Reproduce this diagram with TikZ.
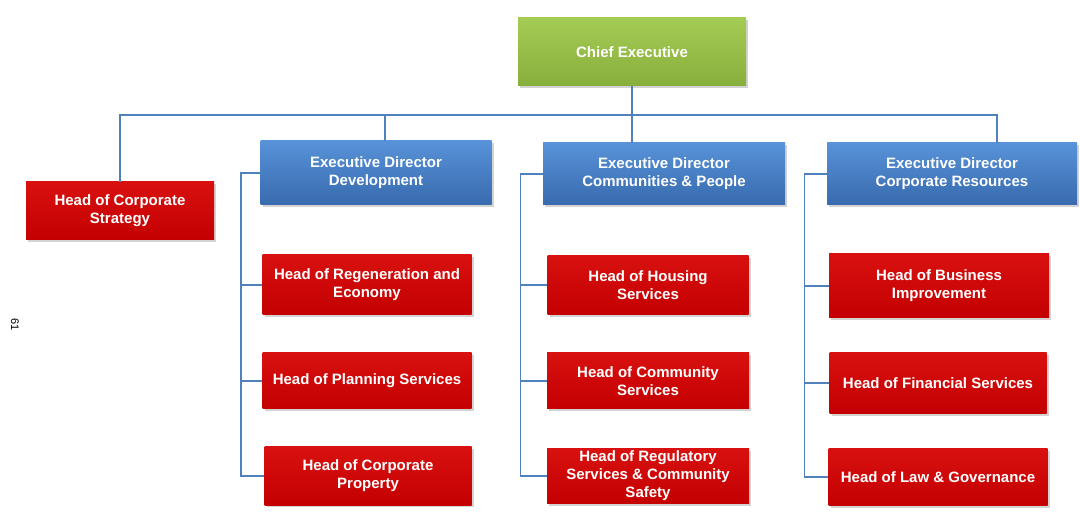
\documentclass[tikz,border=0pt]{standalone}
\usepackage{fontspec}
\setmainfont{Liberation Sans}
\usetikzlibrary{shadows}
\definecolor{cegreen}{RGB}{164,204,84}
\definecolor{cegreendk}{RGB}{136,174,60}
\definecolor{edblue}{RGB}{88,146,216}
\definecolor{edbluedk}{RGB}{56,106,174}
\definecolor{hdred}{RGB}{216,16,16}
\definecolor{hdreddk}{RGB}{196,0,0}
\definecolor{linkblue}{RGB}{79,129,189}

\begin{document}
\begin{tikzpicture}[x=0.5pt,y=-0.5pt,
  box/.style={text=white, align=center, inner sep=0pt,
    font=\fontsize{7.5}{9}\selectfont\bfseries,
    drop shadow={shadow xshift=1pt,shadow yshift=-1.2pt,opacity=.35}},
  chief/.style={box, top color=cegreen, bottom color=cegreendk},
  director/.style={box, top color=edblue, bottom color=edbluedk},
  head/.style={box, top color=hdred, bottom color=hdreddk},
  link/.style={draw=linkblue, line width=0.75pt}]
\useasboundingbox (0,0) rectangle (1080,517);
\node[rotate=-90, font=\fontsize{5.5}{6}\selectfont] (page) at (15,325) {61};
% top level
\node[chief, minimum width=114pt, minimum height=34pt] (ce) at (632,52) {Chief Executive};
\node[head, minimum width=94pt, minimum height=29pt] (strategy) at (120,211) {Head of Corporate\\Strategy};
\node[director, minimum width=115.5pt, minimum height=32pt] (eddev) at (376,173) {Executive Director\\Development};
\node[director, minimum width=121pt, minimum height=31pt] (edcomm) at (664,174) {Executive Director\\Communities \& People};
\node[director, minimum width=125pt, minimum height=31pt] (edres) at (952,174) {Executive Director\\Corporate Resources};
% development
\node[head, minimum width=104.5pt, minimum height=30pt] (regen) at (367,285) {Head of Regeneration and\\Economy};
\node[head, minimum width=104.5pt, minimum height=28pt] (planning) at (367,381) {Head of Planning Services};
\node[head, minimum width=103.5pt, minimum height=29pt] (property) at (368,476) {Head of Corporate\\Property};
% communities
\node[head, minimum width=100.5pt, minimum height=29.5pt] (housing) at (648,285) {Head of Housing\\Services};
\node[head, minimum width=101pt, minimum height=28pt] (community) at (648,381) {Head of Community\\Services};
\node[head, minimum width=101pt, minimum height=27.5pt] (regulatory) at (648,476) {Head of Regulatory\\Services \& Community\\Safety};
% resources
\node[head, minimum width=110pt, minimum height=32pt] (business) at (939,286) {Head of Business\\Improvement};
\node[head, minimum width=108.5pt, minimum height=30.5pt] (financial) at (938,383) {Head of Financial Services};
\node[head, minimum width=109.5pt, minimum height=28.5pt] (law) at (938,477) {Head of Law \& Governance};
% connectors
\coordinate (tr) at (997,115);
\coordinate (jdev) at (385,115);
\draw[link] (ce.south) -- (ce.south |- edcomm.north);
\draw[link] (strategy.north) |- (tr) -- (tr |- edres.north);
\draw[link] (jdev) -- (jdev |- eddev.north);
\foreach \n in {regen,planning,property}
  \draw[link] (eddev.west) -- ++(-19,0) |- (\n.west);
\foreach \n in {housing,community,regulatory}
  \draw[link] (edcomm.west) -- ++(-22,0) |- (\n.west);
\foreach \n in {business,financial,law}
  \draw[link] (edres.west) -- ++(-22,0) |- (\n.west);
\end{tikzpicture}
\end{document}
